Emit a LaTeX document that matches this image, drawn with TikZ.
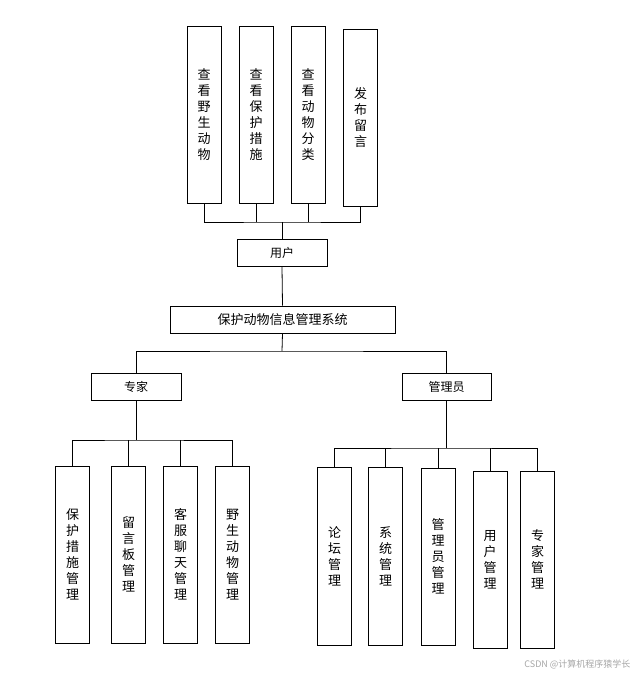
\documentclass[tikz,border=0pt]{standalone}
\usepackage{fontspec}
\setmainfont{Noto Sans CJK SC}
\begin{document}
\begin{tikzpicture}[x=1pt,y=-1pt,
  bx/.style={draw,thick,minimum width=34pt,align=center,font=\fontsize{13}{16}\selectfont,inner sep=0pt},
  hb/.style={draw,thick,minimum height=27pt,font=\fontsize{12}{14}\selectfont,inner sep=0pt},
  ln/.style={thick}]
\useasboundingbox (0,0) rectangle (639,677);
\node[bx,minimum height=177pt] (a1) at (204,114.5) {查\\看\\野\\生\\动\\物};
\node[bx,minimum height=177pt] (a2) at (256,114.5) {查\\看\\保\\护\\措\\施};
\node[bx,minimum height=177pt] (a3) at (308,114.5) {查\\看\\动\\物\\分\\类};
\node[bx,minimum height=177pt] (a4) at (360.5,117.5) {发\\布\\留\\言};
\node[hb,minimum width=90pt] (u) at (282,253) {用户};
\node[hb,minimum width=225pt,font=\fontsize{13}{15}\selectfont] (s) at (282.5,319.5) {保护动物信息管理系统};
\node[hb,minimum width=90pt] (e) at (136,386.5) {专家};
\node[hb,minimum width=89pt] (m) at (446.5,386.5) {管理员};
\node[bx,minimum height=177pt] (b1) at (72.5,554.5) {保\\护\\措\\施\\管\\理};
\node[bx,minimum height=177pt] (b2) at (128.5,554.5) {留\\言\\板\\管\\理};
\node[bx,minimum height=177pt] (b3) at (180.5,554.5) {客\\服\\聊\\天\\管\\理};
\node[bx,minimum height=177pt] (b4) at (232.5,554.5) {野\\生\\动\\物\\管\\理};
\node[bx,minimum height=178pt] (c1) at (334.5,556) {论\\坛\\管\\理};
\node[bx,minimum height=178pt] (c2) at (385.5,556) {系\\统\\管\\理};
\node[bx,minimum height=177pt] (c3) at (438,556.5) {管\\理\\员\\管\\理};
\node[bx,minimum height=177pt] (c4) at (490,559.5) {用\\户\\管\\理};
\node[bx,minimum height=177pt] (c5) at (537.5,559.5) {专\\家\\管\\理};
\coordinate (t) at (282,222);
\draw[ln] (a1.south) |- (t) -| (a4.south);
\draw[ln] (a2.south) -- (a2.south |- t);
\draw[ln] (a3.south) -- (a3.south |- t);
\draw[ln] (u.north) -- (t);
\draw[ln] (u.south) -- (s.north);
\coordinate (sb) at (282,351);
\draw[ln] (s.south) -- (sb);
\draw[ln] (e.north) |- (sb) -| (m.north);
\coordinate (eb) at (136,440);
\draw[ln] (e.south) -- (eb);
\draw[ln] (b1.north) |- (eb) -| (b4.north);
\draw[ln] (b2.north) -- (b2.north |- eb);
\draw[ln] (b3.north) -- (b3.north |- eb);
\coordinate (mb) at (446.5,448);
\draw[ln] (m.south) -- (mb);
\draw[ln] (c1.north) |- (mb) -| (c5.north);
\draw[ln] (c2.north) -- (c2.north |- mb);
\draw[ln] (c3.north) -- (c3.north |- mb);
\draw[ln] (c4.north) -- (c4.north |- mb);
\node[text=gray!70,font=\fontsize{9}{10}\selectfont,anchor=east] (wm) at (634,664) {CSDN @计算机程序猿学长};
\end{tikzpicture}
\end{document}
